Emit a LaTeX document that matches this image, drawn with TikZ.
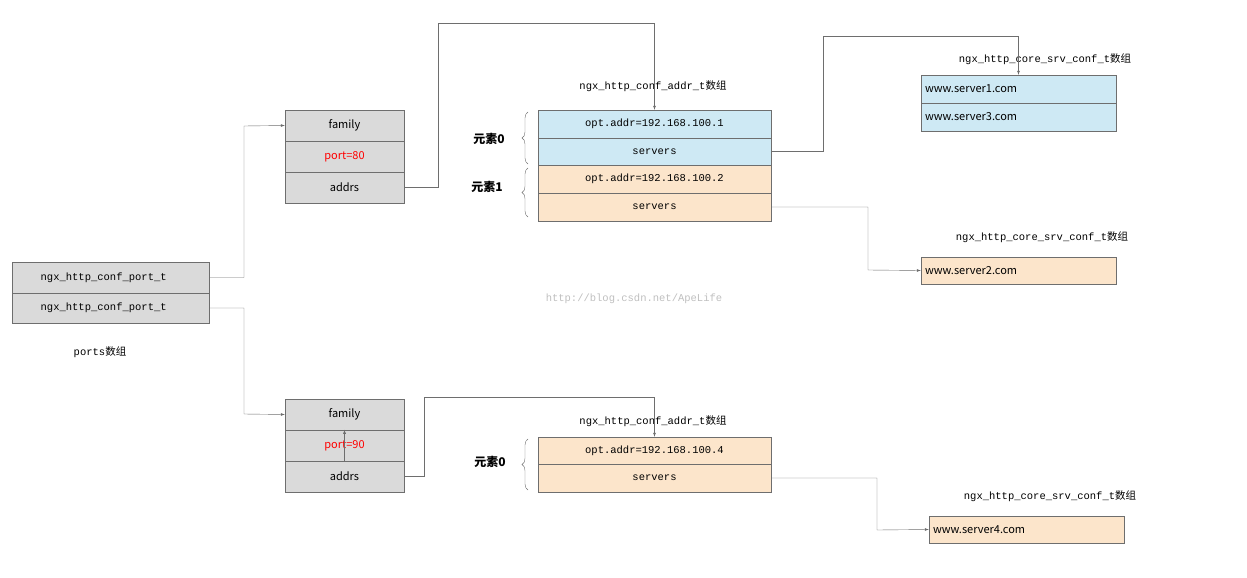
\documentclass[tikz,border=0pt]{standalone}
\usepackage{fontspec}
\usepackage{tikz}
\usetikzlibrary{decorations.pathreplacing}
\newfontfamily\cjk{Noto Sans CJK SC}
\setmonofont{Liberation Mono}
\definecolor{cellblue}{RGB}{206,233,244}
\definecolor{cellorange}{RGB}{252,229,203}
\definecolor{cellgray}{RGB}{218,218,218}
\definecolor{edgegray}{RGB}{110,110,110}
\tikzset{cell/.style = {draw = edgegray, rectangle, inner sep = 0, font = \cjk\fontsize{11}{12}\selectfont},
  ttcell/.style = {cell, font = \ttfamily\fontsize{10.5}{12}\selectfont},
  title/.style = {font = \ttfamily\fontsize{10.5}{12}\selectfont},
  elem/.style = {font = \cjk\bfseries\fontsize{12}{14}\selectfont},
  link/.style = {draw = edgegray, -latex}}
\begin{document}
\begin{tikzpicture}[x = 1pt, y = -1pt]
    \useasboundingbox (0, 0) rectangle (1247, 578);

    \node [ttcell, fill = cellgray, minimum width = 197, minimum height = 31, anchor = west] (p1) at (12, 277.5) {ngx\_http\_conf\_port\_t\hspace*{14pt}};
    \node [ttcell, fill = cellgray, minimum width = 197, minimum height = 30, anchor = west] (p2) at (12, 308) {ngx\_http\_conf\_port\_t\hspace*{14pt}};
    \node [title] (ports) at (100, 352) {ports{\cjk 数组}};

    \node [cell, fill = cellgray, minimum width = 119, minimum height = 31] (fam1) at (344.5, 125.5) {family};
    \node [cell, fill = cellgray, minimum width = 119, minimum height = 31, text = red] (port1) at (344.5, 156.5) {port=80};
    \node [cell, fill = cellgray, minimum width = 119, minimum height = 31] (addrs1) at (344.5, 187.5) {addrs};

    \node [cell, fill = cellgray, minimum width = 119, minimum height = 31] (fam2) at (344.5, 414.5) {family};
    \node [cell, fill = cellgray, minimum width = 119, minimum height = 31, text = red] (port2) at (344.5, 445.5) {port=90};
    \node [cell, fill = cellgray, minimum width = 119, minimum height = 31] (addrs2) at (344.5, 476.5) {addrs};

    \node [title] (at1) at (653, 86) {ngx\_http\_conf\_addr\_t{\cjk 数组}};
    \node [ttcell, fill = cellblue, minimum width = 233, minimum height = 28] (a0) at (654.5, 124) {opt.addr=192.168.100.1};
    \node [ttcell, fill = cellblue, minimum width = 233, minimum height = 27] (s0) at (654.5, 151.5) {servers};
    \node [ttcell, fill = cellorange, minimum width = 233, minimum height = 28] (a1) at (654.5, 179) {opt.addr=192.168.100.2};
    \node [ttcell, fill = cellorange, minimum width = 233, minimum height = 28] (s1) at (654.5, 207) {servers};

    \node [title] (at2) at (653, 421) {ngx\_http\_conf\_addr\_t{\cjk 数组}};
    \node [ttcell, fill = cellorange, minimum width = 233, minimum height = 27] (a4) at (654.5, 450.5) {opt.addr=192.168.100.4};
    \node [ttcell, fill = cellorange, minimum width = 233, minimum height = 28] (s4) at (654.5, 478) {servers};

    \node [title] (st1) at (1045, 59) {ngx\_http\_core\_srv\_conf\_t{\cjk 数组}};
    \node [cell, fill = cellblue, minimum width = 195, minimum height = 28, text width = 187, align = left] (w1) at (1018.5, 89) {www.server1.com};
    \node [cell, fill = cellblue, minimum width = 195, minimum height = 28, text width = 187, align = left] (w3) at (1018.5, 117) {www.server3.com};
    \node [title] (st2) at (1042, 237) {ngx\_http\_core\_srv\_conf\_t{\cjk 数组}};
    \node [cell, fill = cellorange, minimum width = 195, minimum height = 27, text width = 187, align = left] (w2) at (1018.5, 270.5) {www.server2.com};
    \node [title] (st4) at (1050, 496) {ngx\_http\_core\_srv\_conf\_t{\cjk 数组}};
    \node [cell, fill = cellorange, minimum width = 195, minimum height = 27, text width = 187, align = left] (w4) at (1026.5, 529.5) {www.server4.com};

    % braces
    \draw [edgegray, decorate, decoration = {brace, amplitude = 6}] (528, 164) -- (528, 112);
    \node [elem] (e0) at (489, 139) {元素0};
    \draw [edgegray, decorate, decoration = {brace, amplitude = 6}] (528, 217) -- (528, 168);
    \node [elem] (e1) at (487, 187) {元素1};
    \draw [edgegray, decorate, decoration = {brace, amplitude = 6}] (528, 490) -- (528, 439);
    \node [elem] (e2) at (490, 462) {元素0};

    \node [title, text = black!25] (mark) at (634, 299) {http://blog.csdn.net/ApeLife};

    \draw [link] (p1.east) -| (244, 126) -- (fam1.west);
    \draw [link] (p2.east) -| (244, 414) -- (fam2.west);
    \draw [link] (addrs1.east) -| (438, 23) -| (a0.north);
    \draw [link] (addrs2.east) -| (424, 397) -| (a4.north);
    \draw [link] (s0.east) -| (823, 36) -| (w1.north);
    \draw [link] (s1.east) -| (868, 270) -- (w2.west);
    \draw [link] (s4.east) -| (877, 530) -- (w4.west);
    \draw [link] (port2.south) -- (port2.north);
\end{tikzpicture}
\end{document}
